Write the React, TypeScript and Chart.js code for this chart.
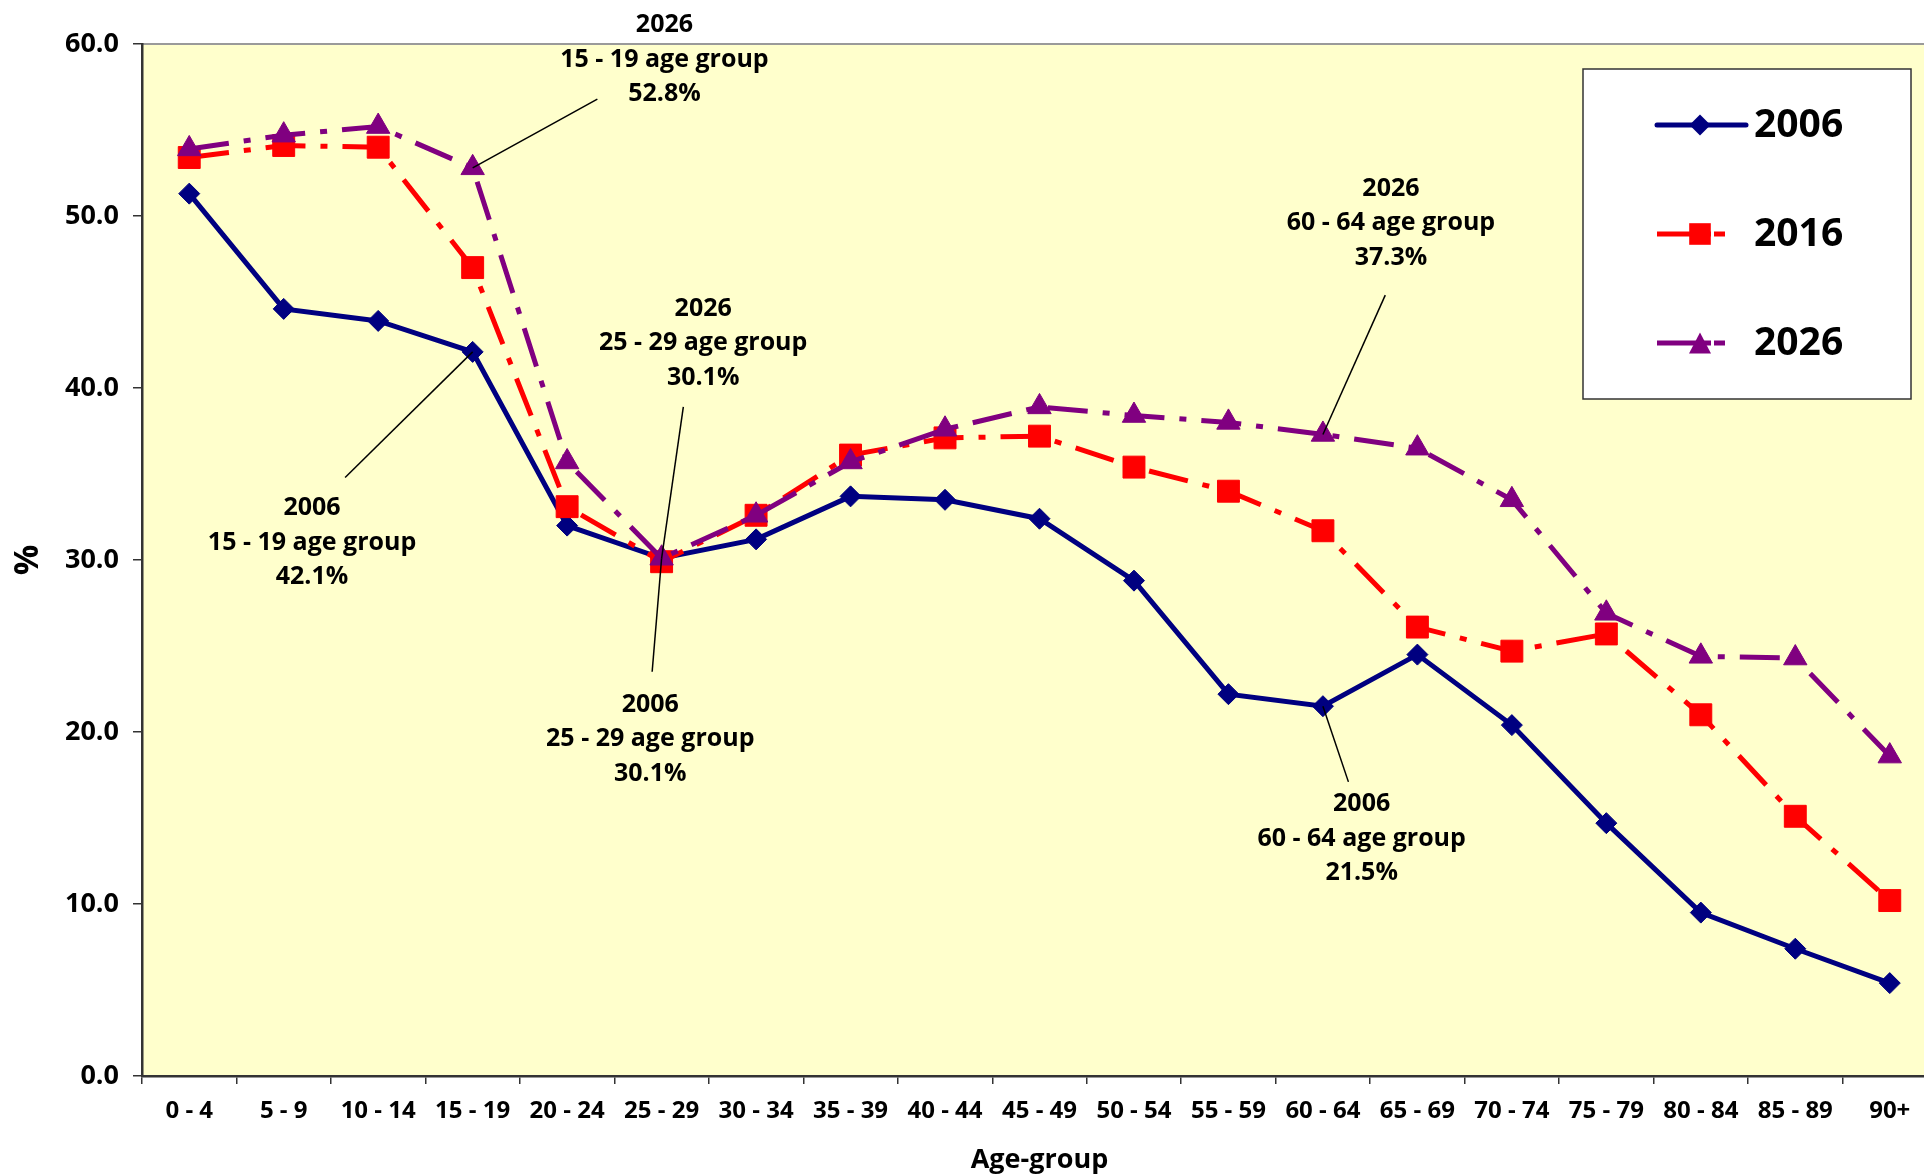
import React, { useEffect, useRef } from "react";
import { Chart, registerables } from "chart.js";

Chart.register(...registerables);

const categories = [
  "0 - 4", "5 - 9", "10 - 14", "15 - 19", "20 - 24", "25 - 29", "30 - 34",
  "35 - 39", "40 - 44", "45 - 49", "50 - 54", "55 - 59", "60 - 64", "65 - 69",
  "70 - 74", "75 - 79", "80 - 84", "85 - 89", "90+",
];

const series2006 = [51.3, 44.6, 43.9, 42.1, 32.0, 30.1, 31.2, 33.7, 33.5, 32.4, 28.8, 22.2, 21.5, 24.5, 20.4, 14.7, 9.5, 7.4, 5.4];
const series2016 = [53.4, 54.1, 54.0, 47.0, 33.1, 29.9, 32.6, 36.1, 37.1, 37.2, 35.4, 34.0, 31.7, 26.1, 24.7, 25.7, 21.0, 15.1, 10.2];
const series2026 = [53.9, 54.7, 55.2, 52.8, 35.7, 30.1, 32.6, 35.7, 37.6, 38.9, 38.4, 38.0, 37.3, 36.5, 33.5, 26.9, 24.4, 24.3, 18.6];

const seriesNames = ["2006", "2016", "2026"];
const yMin = 0;
const yMax = 60;
const yStep = 10;

// annotation callouts: text anchor (category index, value), leader start, target point
const calloutLines1 = ["2026", "15 - 19 age group", "52.8%"];
const calloutLines2 = ["2006", "15 - 19 age group", "42.1%"];
const calloutLines3 = ["2026", "25 - 29 age group", "30.1%"];
const calloutLines4 = ["2006", "25 - 29 age group", "30.1%"];
const calloutLines5 = ["2026", "60 - 64 age group", "37.3%"];
const calloutLines6 = ["2006", "60 - 64 age group", "21.5%"];

const callouts = [
  { lines: calloutLines1, tx: 5.03, ty: 59.1, lx: 4.32, ly: 56.8, series: series2026, idx: 3 },
  { lines: calloutLines2, tx: 1.30, ty: 31.0, lx: 1.65, ly: 34.8, series: series2006, idx: 3 },
  { lines: calloutLines3, tx: 5.44, ty: 42.6, lx: 5.23, ly: 38.9, series: series2026, idx: 5 },
  { lines: calloutLines4, tx: 4.88, ty: 19.6, lx: 4.90, ly: 23.5, series: series2006, idx: 5 },
  { lines: calloutLines5, tx: 12.72, ty: 49.6, lx: 12.66, ly: 45.4, series: series2026, idx: 12 },
  { lines: calloutLines6, tx: 12.41, ty: 13.8, lx: 12.27, ly: 17.1, series: series2006, idx: 12 },
];

const FONT = "'Open Sans', 'Noto Sans', sans-serif";
const NAVY = "#000080";
const RED = "#FF0000";
const PURPLE = "#800080";
const DASH = [40, 15, 7, 15];

function drawMarker(ctx: CanvasRenderingContext2D, style: string, x: number, y: number, color: string) {
  ctx.save();
  ctx.fillStyle = color;
  ctx.beginPath();
  if (style === "diamond") {
    const r = 10.5;
    ctx.moveTo(x - r, y);
    ctx.lineTo(x, y - r);
    ctx.lineTo(x + r, y);
    ctx.lineTo(x, y + r);
    ctx.closePath();
  } else if (style === "square") {
    const s = 10.8;
    ctx.rect(x - s, y - s, 2 * s, 2 * s);
  } else {
    const h = 21;
    const w = 22;
    ctx.moveTo(x, y - h / 2);
    ctx.lineTo(x + w / 2, y + h / 2);
    ctx.lineTo(x - w / 2, y + h / 2);
    ctx.closePath();
  }
  ctx.fill();
  ctx.restore();
}

const decorPlugin = {
  id: "decor",
  beforeDraw(chart: any) {
    const { ctx, chartArea: a, width, height } = chart;
    ctx.save();
    ctx.fillStyle = "#ffffff";
    ctx.fillRect(0, 0, width, height);
    ctx.fillStyle = "#FFFFCC";
    ctx.fillRect(a.left, a.top, a.right - a.left, a.bottom - a.top);
    ctx.strokeStyle = "#9a9a9a";
    ctx.lineWidth = 2;
    ctx.beginPath();
    ctx.moveTo(a.left, a.top);
    ctx.lineTo(a.right, a.top);
    ctx.stroke();
    ctx.restore();
  },
  afterDatasetsDraw(chart: any) {
    const { ctx } = chart;
    const xs = chart.scales.x;
    const ys = chart.scales.y;
    ctx.save();
    ctx.strokeStyle = "#000000";
    ctx.lineWidth = 1.5;
    callouts.forEach((c) => {
      ctx.beginPath();
      ctx.moveTo(xs.getPixelForValue(c.lx), ys.getPixelForValue(c.ly));
      ctx.lineTo(xs.getPixelForValue(c.idx), ys.getPixelForValue(c.series[c.idx]));
      ctx.stroke();
    });
    ctx.fillStyle = "#000000";
    ctx.font = `bold 25px ${FONT}`;
    ctx.textAlign = "center";
    ctx.textBaseline = "middle";
    callouts.forEach((c) => {
      const cx = xs.getPixelForValue(c.tx);
      const cy = ys.getPixelForValue(c.ty);
      c.lines.forEach((t, i) => {
        ctx.fillText(t, cx, cy + (i - 1) * 34.5);
      });
    });
    ctx.restore();
  },
  afterDraw(chart: any) {
    const { ctx, chartArea: a } = chart;
    ctx.save();
    ctx.fillStyle = "#000000";
    ctx.textAlign = "center";
    ctx.textBaseline = "middle";
    ctx.font = `bold 27px ${FONT}`;
    ctx.fillText("Age-group", (a.left + a.right) / 2, a.bottom + 84);
    ctx.save();
    ctx.translate(28, (a.top + a.bottom) / 2);
    ctx.rotate(-Math.PI / 2);
    ctx.font = `bold 34px ${FONT}`;
    ctx.fillText("%", 0, 0);
    ctx.restore();

    // legend
    const bx = 1583, by = 69, bw = 328, bh = 330;
    ctx.fillStyle = "#ffffff";
    ctx.fillRect(bx, by, bw, bh);
    ctx.strokeStyle = "#333333";
    ctx.lineWidth = 1.5;
    ctx.strokeRect(bx, by, bw, bh);
    const entries = [
      { name: seriesNames[0], color: NAVY, marker: "diamond", dash: [] as number[], y: 125, x2: 1746, cap: "round" },
      { name: seriesNames[1], color: RED, marker: "square", dash: [54, 3, 11, 60], y: 234, x2: 1725, cap: "butt" },
      { name: seriesNames[2], color: PURPLE, marker: "triangle", dash: [54, 3, 11, 60], y: 343, x2: 1725, cap: "butt" },
    ];
    entries.forEach((e) => {
      ctx.save();
      ctx.strokeStyle = e.color;
      ctx.lineWidth = 5;
      ctx.lineCap = e.cap as CanvasLineCap;
      ctx.setLineDash(e.dash);
      ctx.beginPath();
      ctx.moveTo(1657, e.y);
      ctx.lineTo(e.x2, e.y);
      ctx.stroke();
      ctx.restore();
      drawMarker(ctx, e.marker, 1700, e.y, e.color);
      ctx.fillStyle = "#000000";
      ctx.font = `bold 39px ${FONT}`;
      ctx.textAlign = "left";
      ctx.textBaseline = "middle";
      ctx.fillText(e.name, 1754, e.y + 1);
    });
    ctx.restore();
  },
};

export default function App() {
  const canvasRef = useRef<HTMLCanvasElement | null>(null);

  useEffect(() => {
    if (!canvasRef.current) return;
    const chart = new Chart(canvasRef.current, {
      type: "line",
      data: {
        labels: categories,
        datasets: [
          {
            label: seriesNames[0],
            data: series2006,
            borderColor: NAVY,
            backgroundColor: NAVY,
            borderWidth: 5,
            pointStyle: "rectRot",
            pointRadius: 10.5,
            pointHoverRadius: 10.5,
            pointBorderWidth: 1,
            pointBorderColor: NAVY,
            pointBackgroundColor: NAVY,
            tension: 0,
            order: 2,
          },
          {
            label: seriesNames[1],
            data: series2016,
            borderColor: RED,
            backgroundColor: RED,
            borderWidth: 5,
            borderDash: DASH,
            pointStyle: "rect",
            pointRadius: 15.5,
            pointHoverRadius: 15.5,
            pointBorderWidth: 1,
            pointBorderColor: RED,
            pointBackgroundColor: RED,
            tension: 0,
            order: 1,
          },
          {
            label: seriesNames[2],
            data: series2026,
            borderColor: PURPLE,
            backgroundColor: PURPLE,
            borderWidth: 5,
            borderDash: DASH,
            pointStyle: "triangle",
            pointRadius: 13.5,
            pointHoverRadius: 13.5,
            pointBorderWidth: 1,
            pointBorderColor: PURPLE,
            pointBackgroundColor: PURPLE,
            tension: 0,
            order: 0,
          },
        ],
      },
      options: {
        responsive: false,
        animation: false,
        devicePixelRatio: 1,
        layout: { padding: { top: 44, right: 23, left: 0, bottom: 0 } },
        plugins: {
          legend: { display: false },
          tooltip: { enabled: false },
          title: { display: false },
        },
        scales: {
          x: {
            type: "category",
            offset: true,
            grid: {
              offset: true,
              drawOnChartArea: false,
              drawTicks: true,
              tickLength: 8,
              color: "#333333",
              lineWidth: 1.5,
            },
            border: { display: true, color: "#333333", width: 2.5 },
            ticks: {
              color: "#000000",
              font: { family: FONT, size: 24, weight: "bold" },
              padding: 13,
              maxRotation: 0,
              autoSkip: false,
            },
            afterFit: (scale: any) => {
              scale.height = 98;
            },
          },
          y: {
            min: yMin,
            max: yMax,
            grid: {
              drawOnChartArea: false,
              drawTicks: true,
              tickLength: 9,
              color: "#333333",
              lineWidth: 1.5,
            },
            border: { display: true, color: "#333333", width: 2.5 },
            ticks: {
              stepSize: yStep,
              color: "#000000",
              font: { family: FONT, size: 27, weight: "bold" },
              padding: 14,
              callback: (v: any) => Number(v).toFixed(1),
            },
            afterFit: (scale: any) => {
              scale.width = 142;
            },
          },
        },
      },
      plugins: [decorPlugin],
    });
    return () => chart.destroy();
  }, []);

  return (
    <div
      style={{
        position: "fixed",
        left: 0,
        top: 0,
        width: 1924,
        height: 1174,
        overflow: "hidden",
        background: "#ffffff",
      }}
    >
      <canvas
        ref={canvasRef}
        width={1960}
        height={1174}
        style={{ width: 1960, height: 1174, display: "block" }}
      />
    </div>
  );
}
